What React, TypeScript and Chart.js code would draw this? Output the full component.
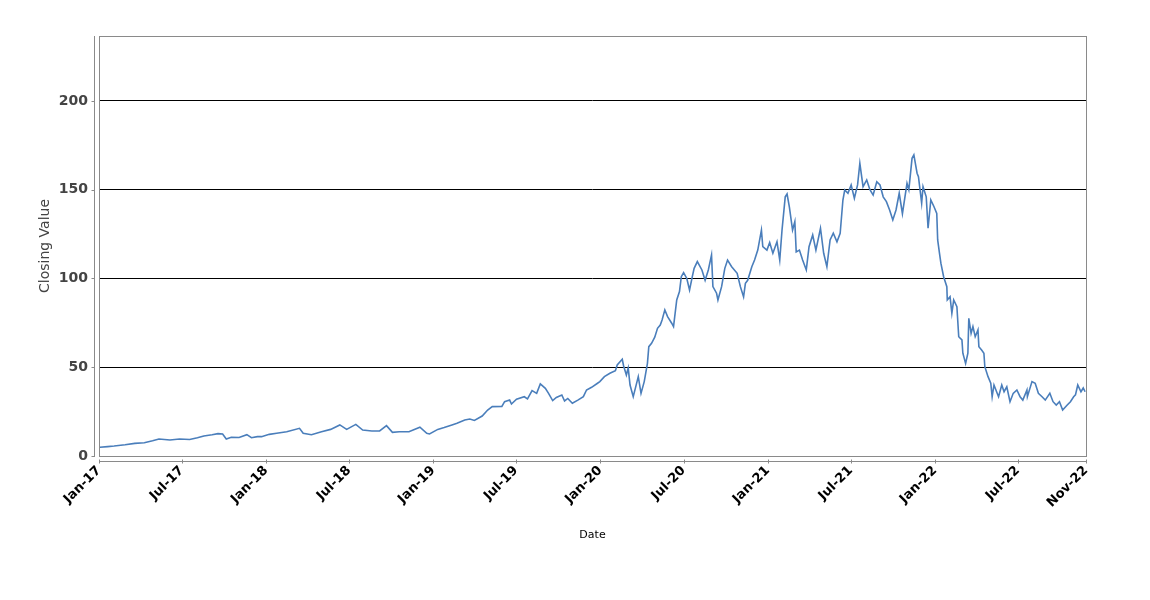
import { useEffect, useRef } from 'react';
import { Chart, registerables } from 'chart.js';

Chart.register(...registerables);

const axisStart = '2017-01-01';
const axisEnd = '2022-11-27';

const dates = [
  '2017-01-03', '2017-01-20', '2017-02-03', '2017-02-27', '2017-03-20', '2017-04-10', '2017-04-28', '2017-05-12',
  '2017-06-05', '2017-06-26', '2017-07-18', '2017-08-04', '2017-08-18', '2017-09-05', '2017-09-18', '2017-09-28',
  '2017-10-06', '2017-10-17', '2017-11-03', '2017-11-20', '2017-11-30', '2017-12-13', '2017-12-22',
  '2018-01-08', '2018-01-24', '2018-02-15', '2018-03-15', '2018-03-23', '2018-04-10', '2018-05-02', '2018-05-22',
  '2018-06-11', '2018-06-26', '2018-07-16', '2018-07-31', '2018-08-20', '2018-09-06', '2018-09-21', '2018-10-04',
  '2018-10-19', '2018-11-09', '2018-12-03', '2018-12-18', '2018-12-24',
  '2019-01-11', '2019-01-25', '2019-02-11', '2019-02-22', '2019-03-11', '2019-03-22', '2019-04-01', '2019-04-18',
  '2019-04-30', '2019-05-10', '2019-05-31', '2019-06-06', '2019-06-17', '2019-06-21', '2019-07-02', '2019-07-19',
  '2019-07-26', '2019-08-05', '2019-08-15', '2019-08-23', '2019-09-03', '2019-09-10', '2019-09-19', '2019-09-27',
  '2019-10-09', '2019-10-15', '2019-10-22', '2019-11-01', '2019-11-13', '2019-11-25', '2019-12-02', '2019-12-13',
  '2019-12-26', '2019-12-31',
  '2020-01-10', '2020-01-22', '2020-02-03', '2020-02-07', '2020-02-18', '2020-02-21', '2020-02-27', '2020-03-02',
  '2020-03-06', '2020-03-13', '2020-03-24', '2020-03-30', '2020-04-06', '2020-04-13', '2020-04-16', '2020-04-22',
  '2020-04-29', '2020-05-05', '2020-05-11', '2020-05-15', '2020-05-21', '2020-05-27', '2020-06-05', '2020-06-09',
  '2020-06-16', '2020-06-22', '2020-06-26', '2020-07-01', '2020-07-08', '2020-07-14', '2020-07-20', '2020-07-24',
  '2020-07-31', '2020-08-10', '2020-08-17', '2020-08-24', '2020-08-31', '2020-09-03', '2020-09-11', '2020-09-14',
  '2020-09-22', '2020-09-29', '2020-10-05', '2020-10-14', '2020-10-26', '2020-11-02', '2020-11-09', '2020-11-13',
  '2020-11-18', '2020-11-27', '2020-12-03', '2020-12-10', '2020-12-18', '2020-12-21', '2020-12-30',
  '2021-01-05', '2021-01-12', '2021-01-21', '2021-01-27', '2021-02-01', '2021-02-08', '2021-02-12', '2021-02-17',
  '2021-02-24', '2021-03-01', '2021-03-04', '2021-03-11', '2021-03-18', '2021-03-26', '2021-04-01', '2021-04-09',
  '2021-04-16', '2021-04-26', '2021-05-03', '2021-05-10', '2021-05-17', '2021-05-24', '2021-06-01', '2021-06-08',
  '2021-06-14', '2021-06-18', '2021-06-25', '2021-07-02', '2021-07-09', '2021-07-16', '2021-07-21', '2021-07-28',
  '2021-08-05', '2021-08-12', '2021-08-19', '2021-08-27', '2021-09-03', '2021-09-10', '2021-09-17', '2021-09-24',
  '2021-10-01', '2021-10-08', '2021-10-15', '2021-10-22', '2021-11-01', '2021-11-05', '2021-11-12', '2021-11-16',
  '2021-11-23', '2021-11-26', '2021-12-03', '2021-12-06', '2021-12-13', '2021-12-17', '2021-12-23', '2021-12-30',
  '2022-01-05', '2022-01-07', '2022-01-11', '2022-01-14', '2022-01-20', '2022-01-27', '2022-01-28', '2022-02-03',
  '2022-02-07', '2022-02-11', '2022-02-18', '2022-02-22', '2022-03-01', '2022-03-03', '2022-03-09', '2022-03-14',
  '2022-03-16', '2022-03-21', '2022-03-25', '2022-03-30', '2022-04-05', '2022-04-07', '2022-04-13', '2022-04-18',
  '2022-04-20', '2022-04-27', '2022-05-03', '2022-05-06', '2022-05-10', '2022-05-17', '2022-05-20', '2022-05-27',
  '2022-06-01', '2022-06-07', '2022-06-14', '2022-06-21', '2022-06-29', '2022-07-06', '2022-07-12', '2022-07-21',
  '2022-07-22', '2022-08-01', '2022-08-08', '2022-08-15', '2022-08-23', '2022-08-30', '2022-09-09', '2022-09-16',
  '2022-09-23', '2022-09-30', '2022-10-07', '2022-10-17', '2022-10-24', '2022-10-31', '2022-11-04', '2022-11-09',
  '2022-11-16', '2022-11-21', '2022-11-25',
];

const closes = [
  4.9, 5.3, 5.6, 6.3, 7.1, 7.5, 8.6, 9.6,
  9.0, 9.6, 9.3, 10.3, 11.3, 12.0, 12.6, 12.4,
  9.6, 10.6, 10.4, 12.0, 10.3, 10.9, 10.9,
  12.2, 12.8, 13.7, 15.6, 12.8, 12.0, 13.7, 15.0,
  17.5, 15.0, 17.8, 14.6, 14.1, 14.1, 17.1, 13.3,
  13.7, 13.7, 16.2, 12.8, 12.4,
  15.0, 16.0, 17.5, 18.5, 20.3, 20.8, 20.0, 22.5,
  25.9, 27.8, 27.9, 30.6, 31.5, 29.3, 32.0, 33.4,
  32.2, 36.8, 35.3, 40.6, 38.1, 35.3, 31.2, 33.0,
  34.4, 31.0, 32.4, 29.7, 31.5, 33.4, 37.2, 38.7,
  41.0, 41.9,
  44.7, 46.6, 48.0, 51.3, 54.5, 50.7, 45.6, 49.6,
  40.0, 33.4, 44.7, 35.3, 41.9, 52.2, 61.6, 63.5,
  66.9, 71.9, 73.8, 76.6, 82.3, 78.5, 74.8, 72.9,
  87.9, 92.6, 101.0, 103.3, 100.0, 93.5, 101.0, 105.7,
  109.5, 104.8, 99.0, 104.8, 113.2, 95.4, 91.7, 87.9,
  95.4, 105.7, 110.4, 106.6, 102.9, 95.4, 89.7, 97.3,
  99.0, 106.6, 110.4, 116.0, 127.3, 117.9, 116.0,
  120.2, 114.2, 120.7, 110.4, 127.3, 146.0, 147.6, 140.4,
  127.3, 132.0, 115.0, 116.0, 110.4, 104.8, 117.9, 124.5,
  116.0, 128.3, 114.2, 106.6, 121.7, 125.5, 120.7, 125.5,
  144.2, 149.9, 148.0, 152.7, 145.2, 152.7, 164.9, 151.7,
  155.5, 150.0, 147.0, 154.5, 152.7, 146.0, 143.3, 138.6,
  133.0, 138.6, 148.0, 136.5, 153.6, 150.0, 167.7, 169.6,
  159.3, 157.4, 142.4, 151.7, 146.0, 128.3, 144.2, 140.4,
  136.7, 121.7, 114.2, 108.6, 101.0, 95.4, 87.9, 89.7,
  80.4, 87.9, 84.1, 67.2, 65.4, 57.9, 52.2, 57.9,
  77.6, 69.1, 72.9, 67.2, 71.0, 61.6, 59.7, 57.9,
  50.3, 44.7, 41.0, 33.4, 40.0, 35.3, 33.4, 40.0,
  36.2, 39.0, 30.6, 35.3, 37.2, 33.4, 31.5, 37.2,
  33.4, 41.9, 41.0, 35.3, 33.4, 31.5, 35.3, 30.6,
  28.7, 30.6, 25.9, 28.7, 30.6, 33.4, 34.4, 40.0,
  36.2, 38.3, 36.2,
];

const tickDates = [
  '2017-01-01', '2017-07-01', '2018-01-01', '2018-07-01', '2019-01-01', '2019-07-01',
  '2020-01-01', '2020-07-01', '2021-01-01', '2021-07-01', '2022-01-01', '2022-07-01', axisEnd,
];
const tickLabels = [
  'Jan-17', 'Jul-17', 'Jan-18', 'Jul-18', 'Jan-19', 'Jul-19',
  'Jan-20', 'Jul-20', 'Jan-21', 'Jul-21', 'Jan-22', 'Jul-22', 'Nov-22',
];
const yTicks = [0, 50, 100, 150, 200];
const yMax = 236.6;

const DAY_MS = 86400000;
const dayOf = (s: string) => Math.round((Date.parse(s) - Date.parse(axisStart)) / DAY_MS);

const AXIS_COLOR = '#8a8a8a';

const framePlugin = {
  id: 'frame',
  afterDraw(chart: any) {
    const { ctx, chartArea: a, scales } = chart;
    ctx.save();
    ctx.strokeStyle = AXIS_COLOR;
    ctx.lineWidth = 1;
    // plot box
    ctx.strokeRect(a.left + 0.5, a.top + 0.5, a.right - a.left, a.bottom - a.top);
    // detached y axis
    const ax = a.left - 5 + 0.5;
    ctx.beginPath();
    ctx.moveTo(ax, a.top);
    ctx.lineTo(ax, a.bottom + 1);
    yTicks.forEach((v) => {
      const py = Math.round(scales.y.getPixelForValue(v)) + 0.5;
      ctx.moveTo(ax - 3, py);
      ctx.lineTo(ax, py);
    });
    // detached x axis
    const ay = a.bottom + 5 + 0.5;
    ctx.moveTo(a.left, ay);
    ctx.lineTo(a.right + 1, ay);
    tickDates.forEach((d) => {
      const px = Math.round(scales.x.getPixelForValue(dayOf(d))) + 0.5;
      ctx.moveTo(px, ay - 2);
      ctx.lineTo(px, ay + 2);
    });
    ctx.stroke();
    ctx.restore();
  },
};

export default function App() {
  const ref = useRef<HTMLCanvasElement>(null);

  useEffect(() => {
    if (!ref.current) return;
    const points = closes.map((v, i) => ({ x: dayOf(dates[i]), y: v }));
    const chart = new Chart(ref.current, {
      type: 'line',
      data: {
        datasets: [
          {
            label: 'Closing Value',
            data: points,
            borderColor: '#4a7ebb',
            borderWidth: 1.6,
            pointRadius: 0,
            tension: 0,
            fill: false,
          },
        ],
      },
      options: {
        responsive: false,
        animation: false,
        layout: { padding: { left: 25, top: 28, right: 56, bottom: 46 } },
        plugins: { legend: { display: false }, tooltip: { enabled: false } },
        scales: {
          x: {
            type: 'linear',
            min: 0,
            max: dayOf(axisEnd),
            afterBuildTicks: (s: any) => {
              s.ticks = tickDates.map((d) => ({ value: dayOf(d) }));
            },
            afterFit: (s: any) => {
              s.height = 90;
            },
            grid: { display: false, drawTicks: false },
            border: { display: false },
            ticks: {
              autoSkip: false,
              minRotation: 45,
              maxRotation: 45,
              padding: 7,
              color: '#000',
              font: { family: 'DejaVu Sans', size: 13, weight: 'bold' },
              callback: (v: any) => {
                const i = tickDates.findIndex((d) => dayOf(d) === v);
                return i >= 0 ? tickLabels[i] : '';
              },
            },
            title: {
              display: true,
              text: 'Date',
              color: '#000',
              font: { family: 'DejaVu Sans', size: 11 },
              padding: { top: 4, bottom: 4 },
            },
          },
          y: {
            min: 0,
            max: yMax,
            afterBuildTicks: (s: any) => {
              s.ticks = yTicks.map((v) => ({ value: v }));
            },
            afterFit: (s: any) => {
              s.width = 66;
            },
            grid: {
              drawTicks: false,
              lineWidth: 1,
              color: (c: any) => (c.tick && c.tick.value > 0 ? '#000' : 'rgba(0,0,0,0)'),
            },
            border: { display: false },
            ticks: {
              padding: 11,
              color: '#444',
              font: { family: 'DejaVu Sans', size: 14, weight: 'bold' },
            },
            title: {
              display: true,
              text: 'Closing Value',
              color: '#444',
              font: { family: 'DejaVu Sans', size: 14 },
              padding: { top: 4, bottom: 4 },
            },
          },
        },
      },
      plugins: [framePlugin],
    });
    return () => chart.destroy();
  }, []);

  return (
    <div style={{ width: 1134, height: 584 }}>
      <canvas ref={ref} width={1134} height={584} style={{ display: 'block' }} />
    </div>
  );
}
